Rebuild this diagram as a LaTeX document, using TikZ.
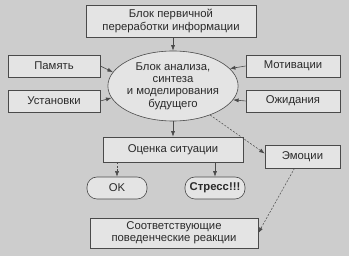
\documentclass[tikz,border=0pt]{standalone}
\usepackage{fontspec}
\setmainfont{Liberation Sans}
\usetikzlibrary{arrows.meta,shapes.geometric}
\definecolor{bg}{HTML}{CDCDCD}
\definecolor{boxfill}{HTML}{E4E4E4}
\definecolor{ink}{HTML}{2A2A2A}
\definecolor{linec}{HTML}{4A4A4A}
\begin{document}
\begin{tikzpicture}[x=1pt,y=-1pt,
  every node/.style={font=\fontsize{11.3}{12.3}\selectfont, text=ink, align=center, inner sep=0pt},
  blk/.style={draw=linec, fill=boxfill, line width=0.6pt},
  rnd/.style={blk, rounded corners=10pt},
  ell/.style={draw=linec, fill=boxfill, line width=0.6pt, ellipse, minimum width=130pt, minimum height=70pt},
  arr/.style={draw=linec, line width=0.6pt, -{Latex[length=5.5pt,width=4pt]}},
  darr/.style={arr, dash pattern=on 2pt off 1.5pt, line width=0.5pt}]
\fill[bg] (0,0) rectangle (349,256);
\useasboundingbox (0,0) rectangle (349,256);
\node[blk, minimum width=170pt, minimum height=32pt] (top) at (171,21) {Блок первичной\\переработки информации};
\node[ell] (ell) at (173,86) {Блок анализа,\\синтеза\\и моделирования\\будущего};
\node[blk, minimum width=92pt, minimum height=22pt] (pam) at (54,66) {Память};
\node[blk, minimum width=92pt, minimum height=22pt] (ust) at (54,101) {Установки};
\node[blk, minimum width=94pt, minimum height=22pt] (mot) at (293,66) {Мотивации};
\node[blk, minimum width=94pt, minimum height=22pt] (ozh) at (293,101) {Ожидания};
\node[blk, minimum width=140pt, minimum height=25pt] (ots) at (173,149.5) {Оценка ситуации};
\node[blk, minimum width=75pt, minimum height=23pt] (emo) at (302.5,156.5) {Эмоции};
\node[rnd, minimum width=60pt, minimum height=22pt] (ok) at (117,188) {OK};
\node[rnd, minimum width=60pt, minimum height=22pt] (str) at (215,188) {\textbf{Стресс!!!}};
\node[blk, minimum width=168pt, minimum height=30pt] (reak) at (174,233) {Соответствующие\\поведенческие реакции};
\draw[arr] (top.south -| ell.north) -- (ell.north);
\draw[arr] (pam.east) -- (ell.167);
\draw[arr] (ust.east) -- (ell.191);
\draw[arr] (mot.west) -- (ell.17);
\draw[arr] (ozh.west) -- (ell.-13);
\draw[arr] (ell.south) -- (ots.north -| ell.south);
\draw[darr] (ell.-38) -- ([yshift=3pt]emo.west);
\draw[darr] (ots.south -| ok.north) -- (ok.north);
\draw[arr] (ots.south -| str.north) -- (str.north);
\draw[darr] ([xshift=-8pt]emo.south) -- (reak.east);
\end{tikzpicture}
\end{document}
